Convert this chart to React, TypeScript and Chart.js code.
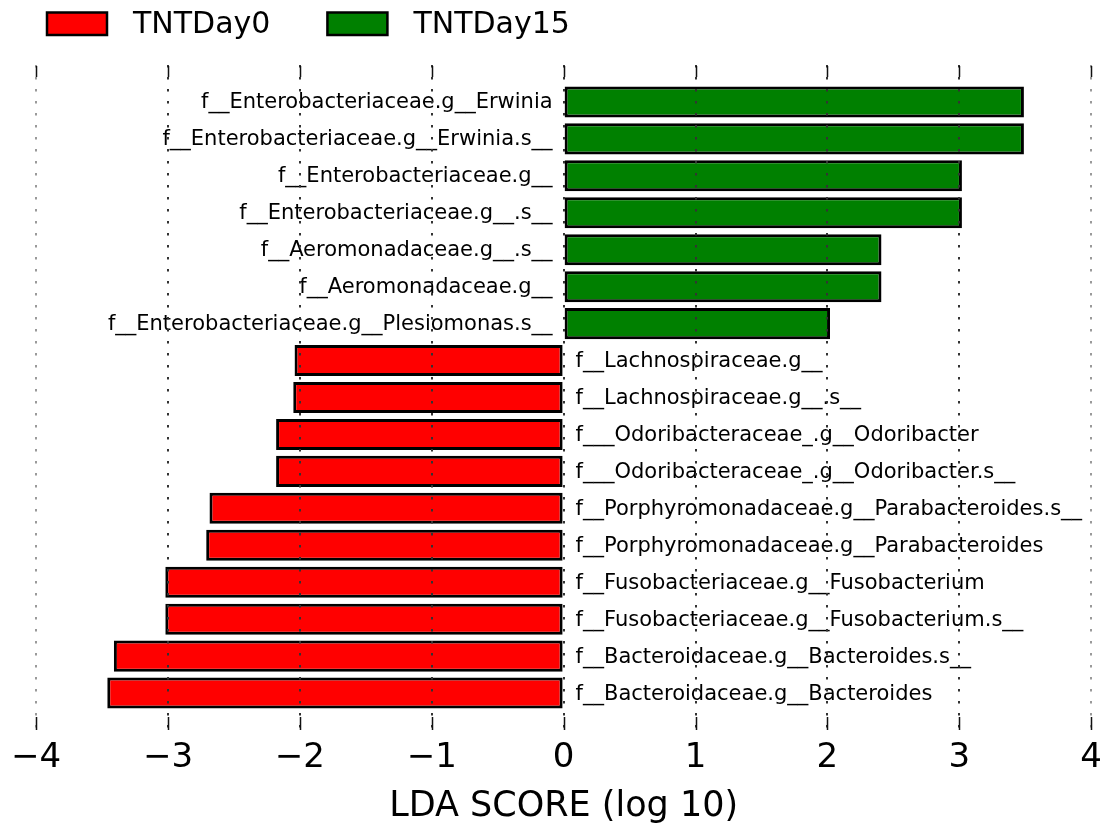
import React, { useEffect, useRef } from 'react';
import { Chart, registerables } from 'chart.js';

Chart.register(...registerables);

const taxa = [
  'f__Enterobacteriaceae.g__Erwinia',
  'f__Enterobacteriaceae.g__Erwinia.s__',
  'f__Enterobacteriaceae.g__',
  'f__Enterobacteriaceae.g__.s__',
  'f__Aeromonadaceae.g__.s__',
  'f__Aeromonadaceae.g__',
  'f__Enterobacteriaceae.g__Plesiomonas.s__',
  'f__Lachnospiraceae.g__',
  'f__Lachnospiraceae.g__.s__',
  'f___Odoribacteraceae_.g__Odoribacter',
  'f___Odoribacteraceae_.g__Odoribacter.s__',
  'f__Porphyromonadaceae.g__Parabacteroides.s__',
  'f__Porphyromonadaceae.g__Parabacteroides',
  'f__Fusobacteriaceae.g__Fusobacterium',
  'f__Fusobacteriaceae.g__Fusobacterium.s__',
  'f__Bacteroidaceae.g__Bacteroides.s__',
  'f__Bacteroidaceae.g__Bacteroides',
];

const ldaScores = [
  3.49, 3.49, 3.02, 3.02, 2.41, 2.41, 2.02,
  -2.04, -2.05, -2.18, -2.18, -2.685, -2.71, -3.02, -3.02, -3.41, -3.46,
];

const groupNames = ['TNTDay0', 'TNTDay15'];
const groupColors = ['#ff0000', '#008000'];
const xTickValues = [-4, -3, -2, -1, 0, 1, 2, 3, 4];

const FONT = "'DejaVu Sans', sans-serif";

const barLabelsPlugin = {
  id: 'barLabels',
  afterDatasetsDraw(chart: any) {
    const { ctx, scales } = chart;
    const xs = scales.x;
    const ys = scales.y;
    const x0 = xs.getPixelForValue(0);
    ctx.save();
    ctx.font = `21px ${FONT}`;
    ctx.fillStyle = '#000';
    ctx.textBaseline = 'middle';
    taxa.forEach((name, i) => {
      const y = ys.getPixelForValue(i) + 1;
      if (ldaScores[i] > 0) {
        ctx.textAlign = 'right';
        ctx.fillText(name, x0 - 11, y);
      } else {
        ctx.textAlign = 'left';
        ctx.fillText(name, x0 + 12, y);
      }
    });
    ctx.restore();
  },
};

const innerTicksPlugin = {
  id: 'innerTicks',
  afterDraw(chart: any) {
    const { ctx, chartArea, scales } = chart;
    const xs = scales.x;
    ctx.save();
    ctx.strokeStyle = '#111';
    ctx.lineWidth = 1.5;
    xs.ticks.forEach((t: any) => {
      const x = Math.round(xs.getPixelForValue(t.value)) + 0.5;
      ctx.beginPath();
      ctx.moveTo(x, chartArea.top + 1);
      ctx.lineTo(x, chartArea.top + 12);
      ctx.moveTo(x, chartArea.bottom - 13);
      ctx.lineTo(x, chartArea.bottom);
      ctx.stroke();
    });
    ctx.restore();
  },
};

const topLegendPlugin = {
  id: 'topLegend',
  afterDraw(chart: any) {
    const { ctx } = chart;
    ctx.save();
    ctx.font = `30px ${FONT}`;
    ctx.textBaseline = 'middle';
    ctx.textAlign = 'left';
    let x = 47;
    chart.data.datasets.forEach((ds: any) => {
      ctx.fillStyle = ds.backgroundColor;
      ctx.fillRect(x, 12.5, 60, 22.5);
      ctx.strokeStyle = '#000';
      ctx.lineWidth = 2.5;
      ctx.strokeRect(x, 12.5, 60, 22.5);
      ctx.fillStyle = '#000';
      const tx = x + 86;
      ctx.fillText(ds.label, tx, 25.5);
      x = tx + ctx.measureText(ds.label).width + 57;
    });
    ctx.restore();
  },
};

export default function App() {
  const canvasRef = useRef<HTMLCanvasElement>(null);

  useEffect(() => {
    if (!canvasRef.current) return;
    const points = taxa.map((_, i) => ({ x: ldaScores[i], y: i }));
    const common = {
      borderColor: '#000',
      borderWidth: 3,
      borderSkipped: false,
      barPercentage: 0.84,
      categoryPercentage: 1,
      grouped: false,
    };
    const chart = new Chart(canvasRef.current, {
      type: 'bar',
      data: {
        datasets: [
          {
            label: groupNames[0],
            data: points.filter((p) => p.x < 0),
            backgroundColor: groupColors[0],
            ...common,
          },
          {
            label: groupNames[1],
            data: points.filter((p) => p.x > 0),
            backgroundColor: groupColors[1],
            ...common,
          },
        ],
      } as any,
      options: {
        indexAxis: 'y',
        animation: false,
        responsive: false,
        layout: { padding: { left: 36, right: 21, top: 65, bottom: 0 } },
        plugins: {
          legend: { display: false },
          tooltip: { enabled: false },
        },
        scales: {
          x: {
            type: 'linear',
            min: -4,
            max: 4,
            afterBuildTicks: (scale: any) => {
              scale.ticks = xTickValues.map((v) => ({ value: v }));
            },
            afterFit: (scale: any) => {
              scale.height = 94;
            },
            ticks: {
              font: { family: FONT, size: 34, lineHeight: 1 },
              color: '#000',
              padding: 11,
              callback: (v: any) => (v < 0 ? '\u2212' + Math.abs(v) : String(v)),
            },
            grid: {
              z: 1,
              drawTicks: false,
              color: (c: any) =>
                c.tick && Math.abs(c.tick.value) === 4 ? '#9a9a9a' : '#333333',
              lineWidth: 2,
            },
            border: { display: false, dash: [2.5, 9.5] },
            title: {
              display: true,
              text: 'LDA SCORE (log 10)',
              font: { family: FONT, size: 35, lineHeight: 1 },
              color: '#000',
              padding: { top: 10, bottom: 0 },
            },
          },
          y: {
            type: 'linear',
            min: -1,
            max: 17,
            reverse: true,
            offset: false,
            display: false,
          },
        },
      } as any,
      plugins: [barLabelsPlugin, innerTicksPlugin, topLegendPlugin],
    });
    return () => chart.destroy();
  }, []);

  return (
    <div style={{ position: 'fixed', left: 0, top: 0, width: 1113, height: 824, background: '#fff' }}>
      <canvas ref={canvasRef} width={1113} height={824} />
    </div>
  );
}
